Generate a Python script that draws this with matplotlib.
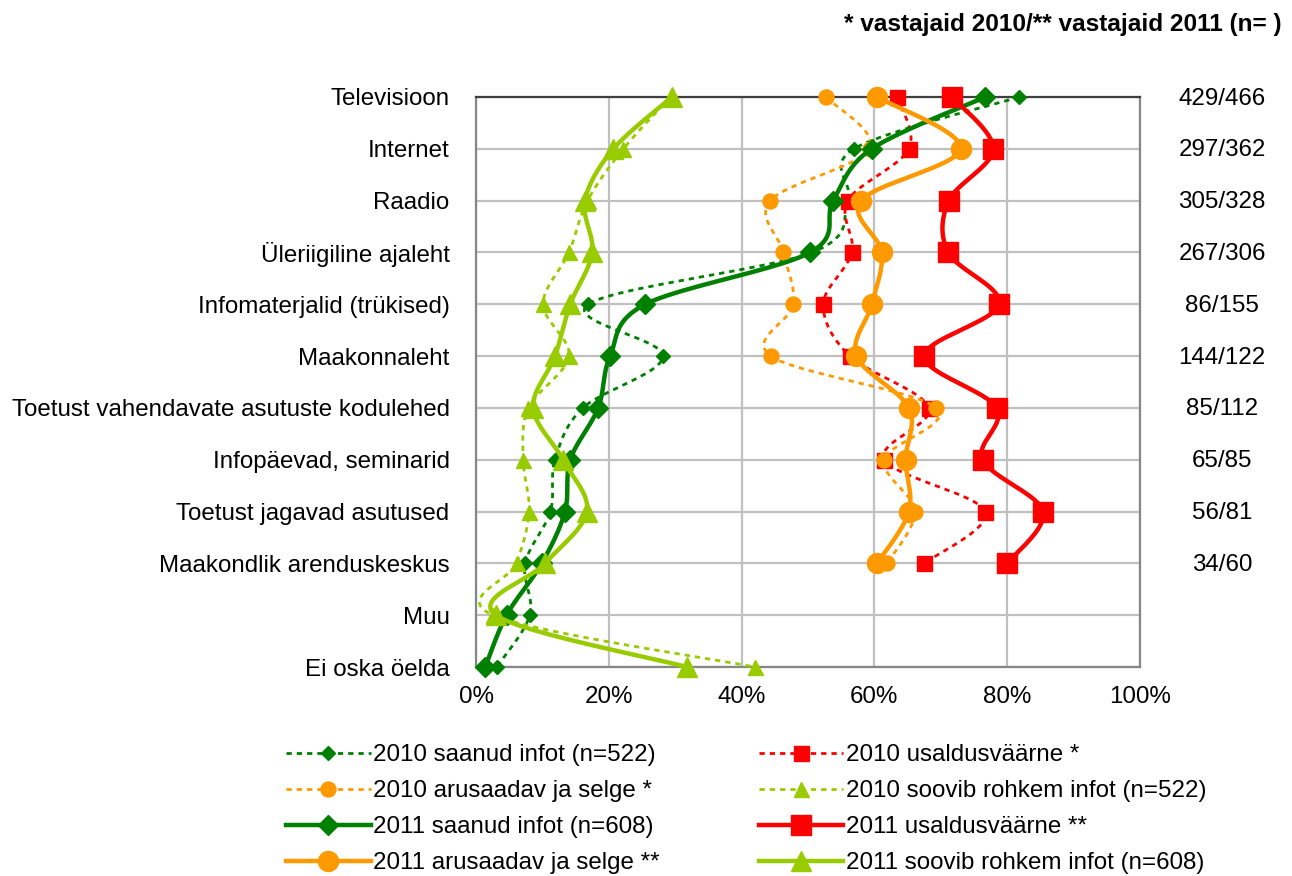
import numpy as np
import matplotlib.pyplot as plt
import matplotlib.transforms as mtransforms
from matplotlib.lines import Line2D

plt.rcParams['font.family'] = ['Liberation Sans', 'DejaVu Sans']

# Categories top to bottom
categories = ['Televisioon', 'Internet', 'Raadio', 'Üleriigiline ajaleht',
              'Infomaterjalid (trükised)', 'Maakonnaleht',
              'Toetust vahendavate asutuste kodulehed', 'Infopäevad, seminarid',
              'Toetust jagavad asutused', 'Maakondlik arenduskeskus', 'Muu',
              'Ei oska öelda']
counts = ['429/466', '297/362', '305/328', '267/306', '86/155', '144/122',
          '85/112', '65/85', '56/81', '34/60']

# values in %
saanud_2010 = [81.8, 56.9, 56.0, 50.6, 16.9, 28.2, 16.1, 11.9, 11.2, 7.4, 8.1, 3.1]
saanud_2011 = [76.7, 59.6, 53.8, 50.3, 25.5, 20.2, 18.4, 14.2, 13.4, 9.9, 4.6, 1.4]
arusaadav_2010 = [52.7, 59.3, 44.3, 46.3, 47.8, 44.4, 69.3, 61.5, 66.1, 61.9]
arusaadav_2011 = [60.4, 73.0, 58.0, 61.1, 59.6, 57.3, 65.2, 64.7, 65.2, 60.4]
usaldus_2010 = [63.4, 65.2, 56.0, 56.6, 52.3, 56.3, 68.2, 61.5, 76.7, 67.5]
usaldus_2011 = [71.7, 77.9, 71.2, 71.1, 78.8, 67.5, 78.4, 76.3, 85.4, 80.0]
soovib_2010 = [29.3, 22.2, 16.8, 14.0, 10.1, 14.0, 7.9, 7.1, 8.0, 6.1, 2.6, 42.0]
soovib_2011 = [29.5, 20.7, 16.4, 17.5, 14.2, 11.9, 8.6, 13.1, 16.7, 10.4, 3.0, 31.8]

DKGREEN = '#008000'
ORANGE = '#FF9900'
RED = '#FF0000'
LTGREEN = '#99CC00'
FS = 17.4


def smooth(xs, ys, sx=6.64, sy=51.8, n=24):
    # Excel-like smoothed line (Catmull-Rom as cubic Bezier, in pixel space)
    p = np.column_stack([np.asarray(xs, float) * sx, np.asarray(ys, float) * sy])
    pts = np.vstack([p[0], p, p[-1]])
    out = []
    t = np.linspace(0, 1, n)[:, None]
    for i in range(1, len(pts) - 2):
        p0, p1, p2, p3 = pts[i - 1], pts[i], pts[i + 1], pts[i + 2]
        c1 = p1 + (p2 - p0) / 6
        c2 = p2 - (p3 - p1) / 6
        seg = (1 - t) ** 3 * p1 + 3 * (1 - t) ** 2 * t * c1 + 3 * (1 - t) * t ** 2 * c2 + t ** 3 * p2
        out.append(seg if i == 1 else seg[1:])
    out = np.vstack(out)
    return out[:, 0] / sx, out[:, 1] / sy


fig = plt.figure(figsize=(12.92, 8.76), dpi=100)
ax = fig.add_axes([476 / 1292, 1 - 667 / 876, 664 / 1292, 570 / 876])

dotted = (0, (1.9, 1.8))
series = [
    # label, values, color, marker, old?
    ('2010 saanud infot (n=522)', saanud_2010, DKGREEN, 'D', True),
    ('2010 usaldusväärne *', usaldus_2010, RED, 's', True),
    ('2010 arusaadav ja selge *', arusaadav_2010, ORANGE, 'o', True),
    ('2010 soovib rohkem infot (n=522)', soovib_2010, LTGREEN, '^', True),
    ('2011 saanud infot (n=608)', saanud_2011, DKGREEN, 'D', False),
    ('2011 usaldusväärne **', usaldus_2011, RED, 's', False),
    ('2011 arusaadav ja selge **', arusaadav_2011, ORANGE, 'o', False),
    ('2011 soovib rohkem infot (n=608)', soovib_2011, LTGREEN, '^', False),
]

handles = {}
for k, (label, vals, color, marker, old) in enumerate(series):
    ys = np.arange(len(vals))
    lx, ly = smooth(vals, ys)
    ms = 10.8 if old else 14.4
    if marker == 'D':
        ms = 7.6 if old else 10.2
    lw = 2.0 if old else 3.2
    ls = dotted if old else '-'
    z = 3 + k
    ax.plot(lx, ly, color=color, lw=lw, linestyle=ls, zorder=z, clip_on=False,
            solid_capstyle='round')
    ax.plot(vals, ys, linestyle='none', marker=marker, ms=ms, color=color,
            markeredgecolor=color, zorder=z + 0.5, clip_on=False)
    handles[label] = Line2D([], [], color=color, lw=lw, linestyle=ls,
                            marker=marker, ms=ms, markeredgecolor=color)

ax.set_xlim(0, 100)
ax.set_ylim(len(categories) - 1, 0)
ax.set_xticks(range(0, 101, 20))
ax.set_xticklabels([f'{v}%' for v in range(0, 101, 20)])
ax.set_yticks(range(len(categories)))
ax.set_yticklabels(categories)
ax.tick_params(axis='both', length=0, labelsize=FS)
ax.tick_params(axis='y', pad=19)
ax.tick_params(axis='x', pad=14)
ax.grid(True, color='#C0C0C0', lw=1.6, zorder=0)
ax.set_axisbelow(True)
for side in ['left', 'right', 'bottom']:
    ax.spines[side].set_color('#868686')
    ax.spines[side].set_linewidth(1.6)
ax.spines['top'].set_color('#404040')
ax.spines['top'].set_linewidth(1.6)

# counts on the right
trans = mtransforms.blended_transform_factory(ax.transAxes, ax.transData)
for i, c in enumerate(counts):
    ax.text(1.1235, i + 0.03, c, transform=trans, ha='center', va='center', fontsize=FS)

fig.text(1282 / 1292, 1 - 24 / 876, '* vastajaid 2010/** vastajaid 2011 (n= )',
         ha='right', va='center', fontsize=17.6, fontweight='bold')

order = ['2010 saanud infot (n=522)', '2010 arusaadav ja selge *',
         '2011 saanud infot (n=608)', '2011 arusaadav ja selge **',
         '2010 usaldusväärne *', '2010 soovib rohkem infot (n=522)',
         '2011 usaldusväärne **', '2011 soovib rohkem infot (n=608)']
fig.legend([handles[o] for o in order], order, ncol=2, frameon=False,
           loc='upper left', bbox_to_anchor=(274 / 1292, 1 - 732 / 876),
           borderpad=0, fontsize=FS, handlelength=3.5, handletextpad=0.1,
           labelspacing=0.58, columnspacing=4.1)

fig.savefig('out.png', dpi=100)
